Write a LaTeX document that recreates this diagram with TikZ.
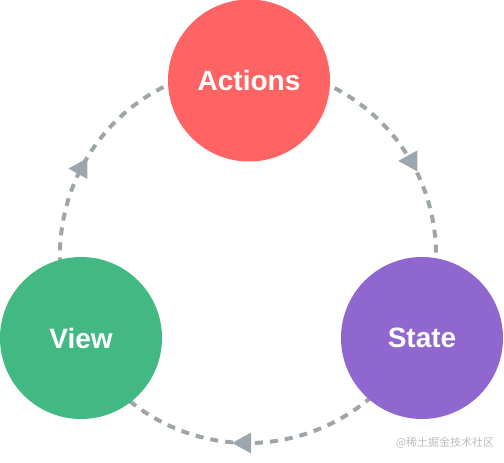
\documentclass[tikz,border=0pt]{standalone}
\usepackage{fontspec}
\setmainfont{Liberation Sans}
\newfontfamily\cjkfont{Noto Sans CJK SC}
\usepackage{xcolor}
\usepackage{tikz}
\usetikzlibrary{decorations.markings}
\definecolor{actionred}{RGB}{255,99,99}
\definecolor{viewgreen}{RGB}{66,184,131}
\definecolor{statepurple}{RGB}{143,103,206}
\definecolor{ringgray}{RGB}{158,166,170}
\definecolor{tipgray}{RGB}{155,166,173}
\definecolor{markgray}{RGB}{190,190,190}
\tikzset{
    bubble/.style={shape=circle, minimum size=162pt, inner sep=0pt,
        text=white, font=\fontsize{28}{32}\selectfont\bfseries},
    flow/.style={draw=ringgray, line width=4pt, dash pattern=on 8pt off 7pt,
        decoration={markings, mark=at position #1 with {\pgftransformresetnontranslations
            \fill[tipgray] (-12.5pt,0pt) -- (6.5pt,10.5pt) -- (6.5pt,-10.5pt) -- cycle;}},
        postaction={decorate}}}

\begin{document}
\begin{tikzpicture}[x=1pt, y=1pt]
                    \useasboundingbox (0,0) rectangle (504,463);

                    \coordinate (ringA) at (248,396);
                    \coordinate (ringS) at (417,125.6);
                    \coordinate (ringV) at (79,125.6);

                    \draw[flow=0.517] (ringA) arc[start angle=90, end angle=-26, radius=188pt];
                    \draw[flow=0.508] (ringS) arc[start angle=-26, end angle=-154, radius=188pt];
                    \draw[flow=0.46] (ringV) arc[start angle=206, end angle=90, radius=188pt];

                    \node[bubble, fill=actionred] (A) at (249,382.5) {Actions};
                    \node[bubble, fill=statepurple] (S) at (422,125) {State};
                    \node[bubble, fill=viewgreen] (V) at (81,125) {View};

                    \node[text=markgray, font=\cjkfont\fontsize{11}{13}\selectfont] (juejin) at (445,20) {@稀土掘金技术社区};

                \end{tikzpicture}
\end{document}
